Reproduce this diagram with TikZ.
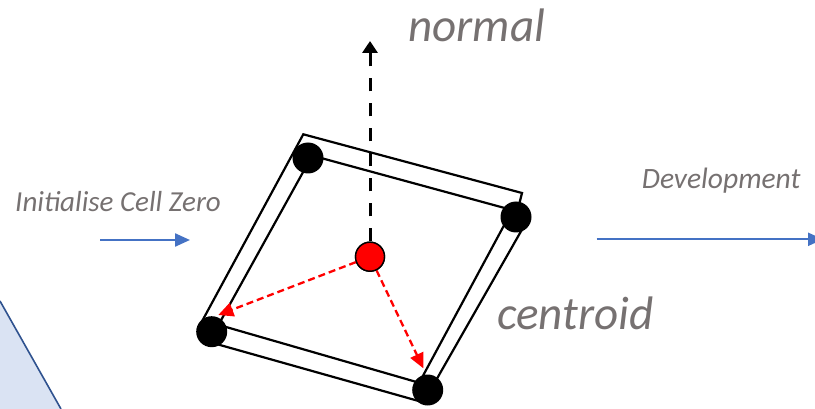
\documentclass[tikz,border=0pt]{standalone}
\usepackage{fontspec}
\setmainfont{Carlito}
\usetikzlibrary{arrows.meta}
\definecolor{txtgray}{HTML}{767171}
\definecolor{arrblue}{HTML}{4472C4}
\definecolor{shapeblue}{HTML}{DAE3F3}
\definecolor{edgeblue}{HTML}{2F528F}
\tikzset{
  vertex/.style={circle, fill=black, minimum size=31pt, inner sep=0pt},
  centnode/.style={circle, fill=red, draw=black, line width=1.4pt, minimum size=29pt, inner sep=0pt},
  barline/.style={line width=2.2pt, black, line join=miter},
  redarrow/.style={red, line width=2.3pt, dash pattern=on 7pt off 4pt, -{Triangle[length=15pt,width=14pt]}},
  normalarrow/.style={black, line width=3pt, dash pattern=on 13pt off 12pt, -{Triangle[length=12pt,width=15pt]}},
  bluearrow/.style={arrblue, line width=2.3pt, -{Triangle[length=15pt,width=13pt]}},
  label/.style={text=txtgray, inner sep=0pt, font=\itshape},
}
\begin{document}
\begin{tikzpicture}[x=1pt,y=-1pt]
\useasboundingbox (0,0) rectangle (815,409);
% light blue shape at bottom-left
\fill[shapeblue] (0,301) -- (61,409) -- (0,409) -- cycle;
\draw[edgeblue, line width=1.6pt] (0,301) -- (61,409);
% frame bars
\draw[barline] (200,325) -- (303.3,134.3) -- (522,193) -- (519,205);
\draw[barline] (310,155) -- (512,210);
\draw[barline] (307,165) -- (218.4,325);
\draw[barline] (215,323.8) -- (420,383);
\draw[barline] (215,343.6) -- (420,401.4);
\draw[barline] (506,221.7) -- (420.7,380);
\draw[barline] (524.6,225) -- (436.2,380);
% corner dots
\node[vertex] (tl) at (308,158) {};
\node[vertex] (tr) at (516,217) {};
\node[vertex] (br) at (427.7,390) {};
\node[vertex] (bl) at (211.7,331.7) {};
% coordinates for arrow ends
\coordinate (tipbl) at (218.3,315);
\coordinate (tipbr) at (423.3,368.3);
\coordinate (ntip) at (370,41);
\coordinate (lbs) at (100,240);
\coordinate (lbe) at (190,240);
\coordinate (rbs) at (596.7,239.3);
\coordinate (rbe) at (823,239.3);
% centroid
\node[centnode] (cen) at (370,256.7) {};
\draw[redarrow] (cen) -- (tipbl);
\draw[redarrow] (cen) -- (tipbr);
\draw[normalarrow] (cen) -- (ntip);
\node[centnode] at (cen) {};
% blue arrows
\draw[bluearrow] (lbs) -- (lbe);
\draw[bluearrow] (rbs) -- (rbe);
% labels
\node[label, anchor=base west, font=\itshape\fontsize{29}{31}\selectfont] (init) at (15,211.7) {Initialise Cell Zero};
\node[label, anchor=base west, font=\itshape\fontsize{29.5}{31}\selectfont] (dev) at (641.7,188.3) {Development};
\node[label, anchor=base west, font=\itshape\fontsize{47}{50}\selectfont] (nrm) at (408.3,41.7) {normal};
\node[label, anchor=base west, font=\itshape\fontsize{47}{50}\selectfont] (cent) at (497,329) {centroid};
\end{tikzpicture}
\end{document}
